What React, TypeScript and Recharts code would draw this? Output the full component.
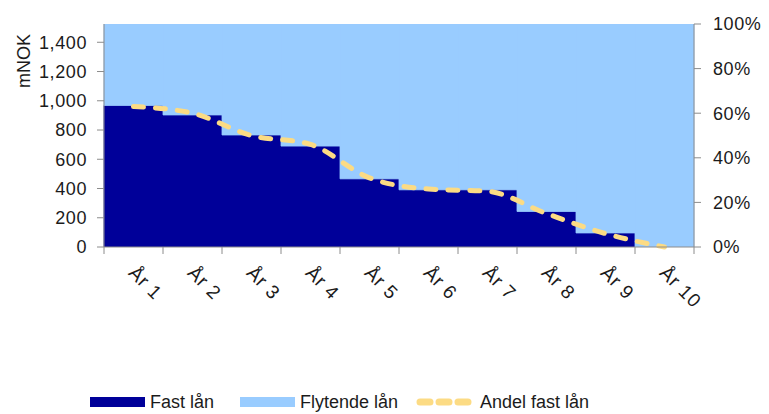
import {
  Bar,
  ComposedChart,
  Label,
  Line,
  XAxis,
  YAxis,
} from "recharts";

const YEARS = ["År 1", "År 2", "År 3", "År 4", "År 5", "År 6", "År 7", "År 8", "År 9", "År 10"];
const FAST_LAN = [968, 903, 766, 690, 466, 391, 391, 243, 96, 0];
const FLYTENDE_LAN = [557, 622, 759, 835, 1059, 1134, 1134, 1282, 1429, 1525];
const ANDEL_FAST = [63, 60, 50, 46, 31, 26, 25, 15, 6, 0];
const MNOK_TICKS = [0, 200, 400, 600, 800, 1000, 1200, 1400];
const PCT_TICKS = [0, 20, 40, 60, 80, 100];

const data = YEARS.map((year, i) => ({
  year,
  fast: FAST_LAN[i],
  flytende: FLYTENDE_LAN[i],
  andel: ANDEL_FAST[i],
}));

const DARK = "#000099";
const LIGHT = "#99CCFF";
const DASH = "#FCDB84";
const TEXT = "#1b1b1b";
const AXIS = "#8c8c8c";
const FONT = "'Liberation Sans', Arial, sans-serif";

const W = 769;
const H = 414;
const LEFT_W = 104;
const RIGHT_W = 75;
const BAND = (W - LEFT_W - RIGHT_W) / YEARS.length;

const tickStyle = { fill: TEXT, fontSize: 18, fontFamily: FONT, letterSpacing: 0.6 };

function YearTick(props: any) {
  const { x, y, payload, index } = props;
  const left = x - BAND / 2;
  const tx = x - 6;
  const ty = y + 27;
  return (
    <g>
      <line x1={left} y1={y} x2={left} y2={y + 7} stroke={AXIS} />
      {index === YEARS.length - 1 && (
        <line x1={x + BAND / 2} y1={y} x2={x + BAND / 2} y2={y + 7} stroke={AXIS} />
      )}
      <text
        x={tx}
        y={ty}
        transform={`rotate(45 ${tx} ${ty})`}
        textAnchor="start"
        fill={TEXT}
        fontSize={19}
        letterSpacing={0.8}
        fontFamily={FONT}
      >
        {payload.value}
      </text>
    </g>
  );
}

// legend drawn as an overlay so its position is fixed
function LegendItem(props: { label: string; kind: "fast" | "flyt" | "andel"; left: number; textLeft: number }) {
  const { label, kind, left, textLeft } = props;
  return (
    <>
      <svg width={58} height={14} style={{ position: "absolute", left, top: 395 }}>
        {kind === "andel" ? (
          <line
            x1={4}
            y1={7}
            x2={54}
            y2={7}
            stroke={DASH}
            strokeWidth={7}
            strokeDasharray="10 9"
            strokeLinecap="round"
          />
        ) : (
          <rect x={0} y={2} width={55} height={10} fill={kind === "fast" ? DARK : LIGHT} />
        )}
      </svg>
      <span style={{ position: "absolute", left: textLeft, top: 391, lineHeight: "22px" }}>{label}</span>
    </>
  );
}

export default function App() {
  return (
    <div style={{ position: "absolute", left: 0, top: 0, width: W, height: H, background: "#fff", overflow: "hidden" }}>
      <ComposedChart
        width={W}
        height={H}
        data={data}
        margin={{ top: 24, right: 0, bottom: 0, left: 0 }}
        barCategoryGap={0}
        barGap={0}
      >
        <XAxis
          dataKey="year"
          height={H - 247}
          tickSize={0}
          tickMargin={0}
          tickLine={false}
          axisLine={{ stroke: AXIS }}
          interval={0}
          tick={<YearTick />}
        />
        <YAxis
          yAxisId="mnok"
          width={LEFT_W}
          domain={[0, 1525]}
          ticks={MNOK_TICKS}
          tickFormatter={(v: number) => v.toLocaleString("en-US")}
          tick={tickStyle}
          tickSize={7}
          tickMargin={10}
          axisLine={{ stroke: AXIS }}
          tickLine={{ stroke: AXIS }}
          allowDataOverflow
        >
          <Label
            content={(p: any) => {
              const cx = 24;
              const cy = (p.viewBox?.y ?? 24) + 37;
              return (
                <text
                  x={cx}
                  y={cy}
                  transform={`rotate(-90 ${cx} ${cy})`}
                  textAnchor="middle"
                  dominantBaseline="central"
                  fill={TEXT}
                  fontSize={18}
                  fontFamily={FONT}
                >
                  mNOK
                </text>
              );
            }}
          />
        </YAxis>
        <YAxis
          yAxisId="pct"
          orientation="right"
          width={RIGHT_W}
          domain={[0, 100]}
          ticks={PCT_TICKS}
          tickFormatter={(v: number) => `${v}%`}
          tick={tickStyle}
          tickSize={7}
          tickMargin={12}
          axisLine={{ stroke: AXIS }}
          tickLine={{ stroke: AXIS }}
        />
        <Bar
          yAxisId="mnok"
          dataKey="fast"
          stackId="lan"
          fill={DARK}
          stroke={DARK}
          strokeWidth={0.8}
          isAnimationActive={false}
          name="Fast lån"
        />
        <Bar
          yAxisId="mnok"
          dataKey="flytende"
          stackId="lan"
          fill={LIGHT}
          stroke={LIGHT}
          strokeWidth={0.8}
          isAnimationActive={false}
          name="Flytende lån"
        />
        <Line
          yAxisId="pct"
          type="monotone"
          dataKey="andel"
          stroke={DASH}
          strokeWidth={5}
          strokeDasharray="10 12"
          strokeLinecap="round"
          dot={false}
          isAnimationActive={false}
          name="Andel fast lån"
        />
      </ComposedChart>
      <div style={{ fontFamily: FONT, fontSize: 18, color: TEXT }}>
        <LegendItem label="Fast lån" kind="fast" left={90} textLeft={150} />
        <LegendItem label="Flytende lån" kind="flyt" left={240} textLeft={300} />
        <LegendItem label="Andel fast lån" kind="andel" left={416} textLeft={480} />
      </div>
    </div>
  );
}
